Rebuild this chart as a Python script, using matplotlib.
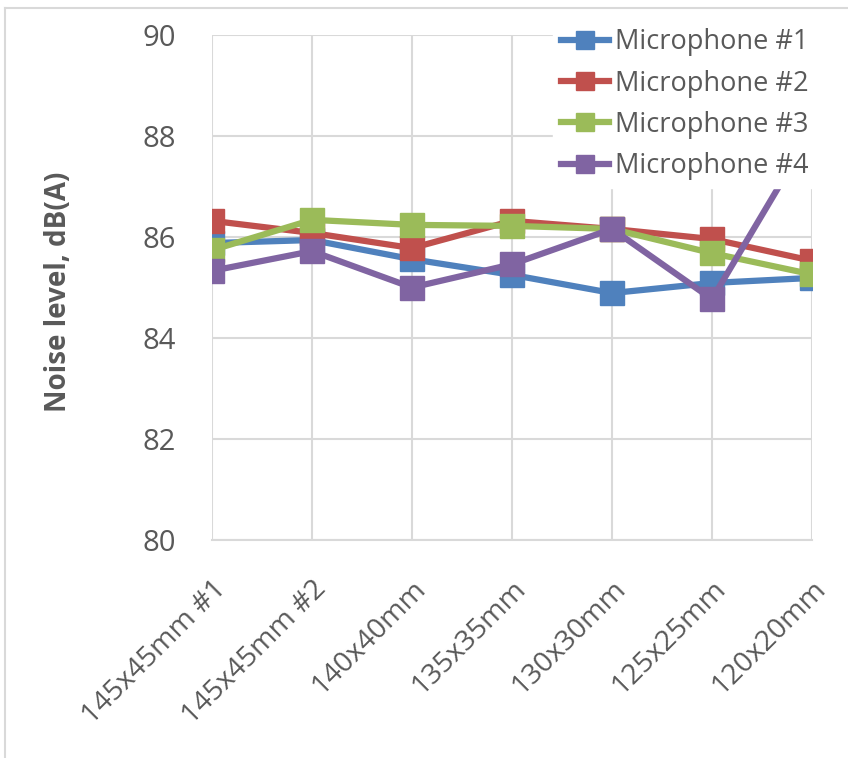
import matplotlib
matplotlib.use("Agg")
import matplotlib.pyplot as plt
from matplotlib.lines import Line2D

plt.rcParams['font.family'] = ['Open Sans', 'DejaVu Sans']

# data
sizes = ["145x45mm #1", "145x45mm #2", "140x40mm", "135x35mm",
         "130x30mm", "125x25mm", "120x20mm"]
mic1 = [85.88, 85.94, 85.56, 85.25, 84.89, 85.09, 85.19]
mic2 = [86.32, 86.08, 85.78, 86.32, 86.16, 85.96, 85.53]
mic3 = [85.74, 86.34, 86.24, 86.22, 86.16, 85.68, 85.26]
mic4 = [85.33, 85.72, 85.00, 85.46, 86.16, 84.77, 88.10]
names = ["Microphone #1", "Microphone #2", "Microphone #3", "Microphone #4"]
colors = ["#4F81BD", "#C0504D", "#9BBB59", "#8064A2"]

fig = plt.figure(figsize=(8.48, 7.58), dpi=100)
ax = fig.add_axes([212/848, 1 - 540/758, 600/848, 505/758])

x = list(range(len(sizes)))
for ys, name, c in zip([mic1, mic2, mic3, mic4], names, colors):
    ax.plot(x, ys, color=c, lw=4.5, marker='s', ms=17, mec=c,
            label=name, solid_joinstyle='round')

ax.set_xlim(0, len(sizes) - 1)
ax.set_ylim(80, 90)
ax.set_yticks([80, 82, 84, 86, 88, 90])
ax.set_xticks(x)
ax.set_xticklabels(sizes, rotation=45, ha='right', rotation_mode='anchor')
ax.grid(True, color='#d9d9d9', lw=1.5)
ax.set_axisbelow(True)
ax.tick_params(length=0, colors='#595959')
ax.tick_params(axis='y', pad=26, labelsize=21)
ax.tick_params(axis='x', pad=25, labelsize=20.5)
for s in ax.spines.values():
    s.set_visible(False)
ax.spines['bottom'].set_visible(True)
ax.spines['bottom'].set_color('#d9d9d9')
ax.spines['bottom'].set_linewidth(1.5)

fig.text(58/848, 1 - 292/758, "Noise level, dB(A)", rotation=90,
         ha='center', va='center', fontsize=20, fontweight='bold',
         color='#595959')

leg = ax.legend(loc='upper right', bbox_to_anchor=(1.03, 1.056),
                frameon=True, fontsize=19.5, handlelength=1.75,
                labelspacing=0.49, handletextpad=0.22, borderpad=0.3,
                fancybox=False, labelcolor='#595959')
leg.get_frame().set_edgecolor('white')
leg.get_frame().set_facecolor('white')
leg.get_frame().set_alpha(1)
for h in leg.legend_handles:
    h.set_markersize(13)

# outer chart border
fig.add_artist(Line2D([5/848, 5/848], [0, 1 - 8/758], color='#d9d9d9', lw=1.5))
fig.add_artist(Line2D([5/848, 1], [1 - 8/758, 1 - 8/758], color='#d9d9d9', lw=1.5))

fig.savefig("out.png", dpi=100)
